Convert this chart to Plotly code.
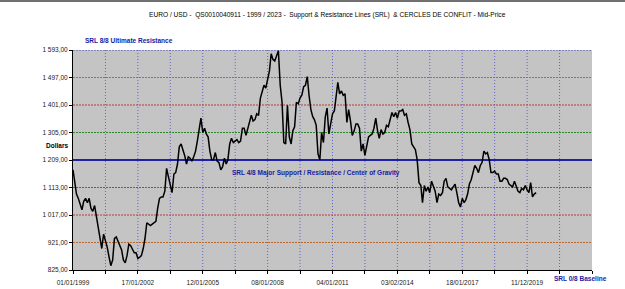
import pandas as pd
import plotly.graph_objects as go

# EUR/USD mid-price x1000 ("Dollars"), monthly readings from Jan 1999 to Jun 2020
start_month = "1999-01-01"
eurusd = [
    # 1999
    1175, 1120, 1090, 1075, 1055, 1035, 1065, 1075, 1060, 1075, 1040, 1030,
    # 2000
    1050, 1010, 975, 945, 900, 950, 930, 905, 870, 840, 860, 935,
    # 2001
    940, 925, 905, 895, 860, 850, 875, 915, 910, 900, 885, 885,
    # 2002
    865, 870, 875, 900, 935, 990, 985, 980, 985, 990, 995, 1040,
    # 2003
    1075, 1080, 1080, 1100, 1180, 1150, 1125, 1095, 1160, 1165, 1195, 1255,
    # 2004
    1265, 1245, 1225, 1195, 1220, 1215, 1205, 1220, 1240, 1275, 1325, 1355,
    # 2005
    1305, 1320, 1300, 1290, 1240, 1210, 1210, 1235, 1205, 1200, 1175, 1185,
    # 2006
    1215, 1195, 1210, 1265, 1285, 1270, 1275, 1280, 1270, 1275, 1320, 1320,
    # 2007
    1295, 1320, 1335, 1365, 1345, 1350, 1370, 1365, 1425, 1445, 1470, 1460,
    # 2008
    1485, 1520, 1580, 1560, 1555, 1575, 1590, 1470, 1410, 1270, 1265, 1400,
    # 2009
    1290, 1265, 1310, 1325, 1410, 1405, 1425, 1435, 1465, 1470, 1500, 1435,
    # 2010
    1385, 1360, 1350, 1330, 1230, 1210, 1305, 1270, 1360, 1390, 1300, 1335,
    # 2011
    1370, 1380, 1420, 1480, 1440, 1450, 1435, 1440, 1340, 1385, 1345, 1295,
    # 2012
    1310, 1335, 1335, 1320, 1240, 1265, 1225, 1255, 1290, 1295, 1300, 1320,
    # 2013
    1355, 1310, 1285, 1315, 1300, 1305, 1330, 1325, 1350, 1375, 1360, 1375,
    # 2014
    1355, 1380, 1380, 1385, 1365, 1370, 1340, 1315, 1265, 1255, 1245, 1210,
    # 2015
    1130, 1120, 1060, 1120, 1100, 1115, 1095, 1135, 1120, 1100, 1060, 1090,
    # 2016
    1085, 1095, 1135, 1145, 1115, 1110, 1105, 1115, 1125, 1095, 1060, 1045,
    # 2017
    1075, 1060, 1070, 1090, 1125, 1140, 1170, 1190, 1180, 1165, 1190, 1200,
    # 2018
    1240, 1230, 1235, 1210, 1165, 1165, 1170, 1160, 1160, 1135, 1135, 1145,
    # 2019
    1145, 1140, 1125, 1120, 1115, 1135, 1115, 1100, 1095, 1110, 1105, 1120,
    # 2020
    1105, 1095, 1130, 1080, 1090, 1095,
]

# SRL levels (0/8 .. 8/8)
srl_levels = [825, 921, 1017, 1113, 1209, 1305, 1401, 1497, 1593]
srl_tick_text = ["825,00", "921,00", "1 017,00", "1 113,00", "1 209,00",
                 "1 305,00", "1 401,00", "1 497,00", "1 593,00"]
srl_colors = ["#000000", "#b8682c", "#b83a3a", "#2a8a2a", "#1f1fa8",
              "#2a8a2a", "#b83a3a", "#b8682c", "#4848c0"]

# x grid / tick positions (every 1.5 years) and labels
x_grid = ["1999-01-01", "2000-07-02", "2002-01-01", "2003-07-02", "2005-01-01",
          "2006-07-02", "2008-01-01", "2009-07-02", "2011-01-01", "2012-07-02",
          "2014-01-01", "2015-07-02", "2017-01-01", "2018-07-02", "2020-01-01",
          "2021-07-02", "2023-01-01"]
x_labels = ["01/01/1999", "", "17/01/2002", "", "12/01/2005", "", "08/01/2008", "",
            "04/01/2011", "", "03/02/2014", "", "18/01/2017", "", "11/12/2019", "", ""]

dates = pd.date_range(start_month, periods=len(eurusd), freq="MS")

fig = go.Figure()
fig.add_trace(go.Scatter(x=dates, y=eurusd, mode="lines",
                         line=dict(color="black", width=1.5), hoverinfo="skip"))

shapes = []
for xv in x_grid[1:-1]:
    shapes.append(dict(type="line", xref="x", yref="paper", x0=xv, x1=xv, y0=0, y1=1,
                       line=dict(color="#6464c8", width=1, dash="1px,2px"), layer="below"))
for lv, col in zip(srl_levels[1:], srl_colors[1:]):
    if lv == 1209:
        ln = dict(color="#1f1fa8", width=2)
    else:
        ln = dict(color=col, width=1, dash="2px,1px")
    shapes.append(dict(type="line", xref="paper", yref="y", x0=0, x1=1, y0=lv, y1=lv,
                       line=ln, layer="below"))
# top frame line of the window
shapes.append(dict(type="line", xref="paper", yref="paper", x0=-0.2, x1=1.1,
                   y0=1.223, y1=1.223, line=dict(color="#707070", width=2)))

font = "Liberation Sans, Arial, sans-serif"
blue = "#1a1aa0"
annotations = [
    dict(text="EURO / USD -  QS0010040911 - 1999 / 2023 -  Support &amp; Resistance Lines (SRL)  &amp; CERCLES DE CONFLIT - Mid-Price",
         xref="paper", yref="paper", x=0.49, y=1.16, xanchor="center", yanchor="middle",
         showarrow=False, font=dict(family=font, size=6.6, color="black")),
    dict(text="<b>SRL 8/8 Ultimate Resistance</b>", xref="paper", yref="paper",
         x=0.019, y=1.045, xanchor="left", yanchor="middle", showarrow=False,
         font=dict(family=font, size=6.5, color=blue)),
    dict(text="<b>SRL 4/8 Major Support / Resistance / Center of Gravity</b>",
         xref="paper", yref="y", x=0.303, y=1165, xanchor="left", yanchor="middle",
         showarrow=False, font=dict(family=font, size=6.5, color=blue)),
    dict(text="<b>SRL 0/8 Baseline</b>", xref="paper", yref="paper",
         x=0.923, y=-0.04, xanchor="left", yanchor="middle", showarrow=False,
         font=dict(family=font, size=6.5, color=blue)),
    dict(text="<b>Dollars</b>", xref="paper", yref="paper",
         x=-0.056, y=0.564, xanchor="left", yanchor="middle", showarrow=False,
         font=dict(family=font, size=6.5, color="black")),
]

fig.update_layout(
    width=625, height=289,
    margin=dict(l=73, r=33, t=50, b=19),
    paper_bgcolor="white", plot_bgcolor="#c4c4c4",
    showlegend=False,
    shapes=shapes, annotations=annotations,
    font=dict(family=font, size=6.5, color="black"),
    xaxis=dict(type="date", range=["1999-01-01", "2023-01-01"], automargin=False,
               tickmode="array", tickvals=x_grid, ticktext=x_labels,
               showgrid=False, zeroline=False, showline=True, linecolor="black",
               linewidth=1, ticks="outside", ticklen=3, tickcolor="black",
               ticklabelstandoff=3,
               tickangle=0, tickfont=dict(size=6.5, color="#202020")),
    yaxis=dict(range=[825, 1593], tickmode="array", tickvals=srl_levels, automargin=False,
               ticktext=srl_tick_text, showgrid=False, zeroline=False,
               showline=True, linecolor="black", linewidth=1, ticks="outside",
               ticklen=3, tickcolor="black", tickfont=dict(size=6.5, color="#202020")),
)

fig.write_html("out.html")
